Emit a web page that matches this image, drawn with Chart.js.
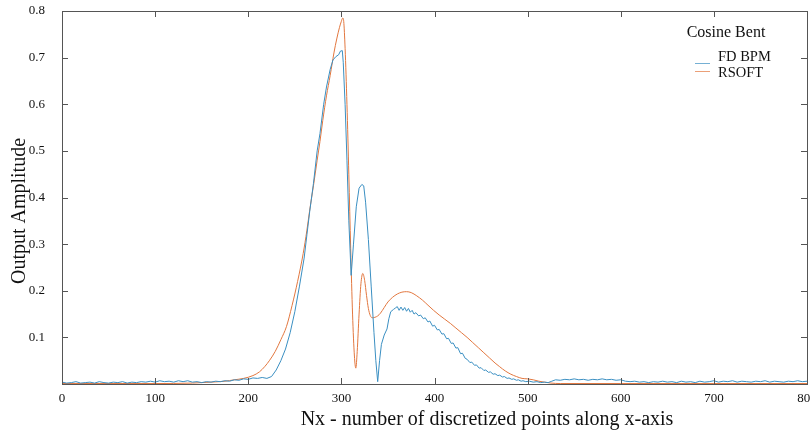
<!DOCTYPE html>
<html>
<head>
<meta charset="utf-8">
<script src="https://cdn.jsdelivr.net/npm/chart.js@4/dist/chart.umd.min.js"></script>
<style>
html,body{margin:0;padding:0;background:#fff;}
#wrap{width:810px;height:432px;position:relative;}
</style>
</head>
<body>
<div id="wrap"><canvas id="c" width="810" height="432"></canvas></div>
<script>
// ---- data ----
const chartTitle = "Cosine Bent";
const seriesNames = ["FD BPM", "RSOFT"];
const xAxisTitle = "Nx - number of discretized points along x-axis";
const yAxisTitle = "Output Amplitude";
const xTicks = [0, 100, 200, 300, 400, 500, 600, 700, 800];
const yTicks = [0.1, 0.2, 0.3, 0.4, 0.5, 0.6, 0.7, 0.8];

const fdX = [0,5,10,15,20,25,30,35,40,45,50,55,60,65,70,75,80,85,90,95,100,105,110,115,120,125,130,135,140,145,150,155,160,165,170,175,180,185,190,195,200,205,210,215,220,225,230,235,240,245,250,255,260,263,266,270,274,277,281,284,288,291,294,297,299,301,302,304,306,308,310.5,313,316,319,322,324,326,329,332,335,337,339,341,343,346,349,351,353,356,358,360,362,364,366,368,370,372,374,376,378,380,383,385,388,390,393,395,398,400,403,405,408,410,413,415,418,420,423,425,428,430,433,435,438,440,443,445,448,450,453,455,458,460,463,465,468,470,473,475,478,480,483,485,488,490,493,495,498,502,506,510,514,518,522,526,530,535,540,545,550,555,560,565,570,575,580,585,590,595,600,605,610,615,620,625,630,635,640,645,650,655,660,665,670,675,680,685,690,695,700,705,710,715,720,725,730,735,740,745,750,755,760,765,770,775,780,785,790,795,800];
const fdY = [0.004,0.002,0.003,0.005,0.002,0.003,0.004,0.002,0.005,0.003,0.002,0.004,0.003,0.005,0.002,0.004,0.003,0.005,0.004,0.006,0.004,0.007,0.005,0.006,0.004,0.007,0.005,0.007,0.004,0.005,0.003,0.005,0.004,0.006,0.005,0.007,0.006,0.009,0.008,0.011,0.010,0.013,0.012,0.014,0.012,0.016,0.030,0.050,0.075,0.110,0.155,0.210,0.270,0.320,0.370,0.430,0.500,0.537,0.600,0.637,0.675,0.695,0.702,0.706,0.714,0.715,0.690,0.600,0.480,0.350,0.233,0.300,0.380,0.420,0.428,0.425,0.390,0.310,0.210,0.110,0.050,0.005,0.050,0.085,0.105,0.118,0.140,0.155,0.160,0.163,0.166,0.158,0.165,0.158,0.164,0.156,0.162,0.154,0.158,0.150,0.153,0.146,0.148,0.140,0.142,0.133,0.135,0.124,0.126,0.116,0.117,0.107,0.108,0.097,0.098,0.087,0.088,0.077,0.078,0.065,0.066,0.055,0.053,0.046,0.047,0.040,0.041,0.034,0.035,0.029,0.030,0.025,0.026,0.021,0.022,0.018,0.019,0.015,0.016,0.012,0.013,0.010,0.011,0.008,0.009,0.006,0.007,0.005,0.006,0.004,0.005,0.003,0.004,0.003,0.006,0.009,0.008,0.010,0.009,0.011,0.009,0.010,0.008,0.010,0.009,0.011,0.009,0.010,0.008,0.009,0.006,0.005,0.006,0.004,0.005,0.003,0.005,0.004,0.006,0.004,0.005,0.003,0.006,0.004,0.005,0.003,0.006,0.004,0.005,0.007,0.004,0.006,0.005,0.007,0.004,0.006,0.005,0.004,0.006,0.005,0.007,0.004,0.006,0.005,0.004,0.006,0.005,0.007,0.005,0.006];

const rsX = [0,100,140,160,175,185,195,205,212,218,223,229,235,241,247,253,259,263,266,270,274,277,280,284,288,292,295,298,300,301.5,302.5,304,306,308,310,312,314,315.5,317,319,321,323,325,327,329,331,333,336,339,342,346,350,355,360,365,370,375,381,387,393,399,405,411,417,423,429,435,441,447,453,459,465,470,476,482,488,494,500,506,512,518,525,535,600,700,800];
const rsY = [0.001,0.001,0.002,0.004,0.006,0.009,0.012,0.018,0.026,0.038,0.051,0.070,0.095,0.123,0.168,0.220,0.280,0.330,0.373,0.425,0.480,0.520,0.565,0.618,0.662,0.710,0.740,0.765,0.778,0.785,0.778,0.720,0.600,0.450,0.290,0.150,0.060,0.034,0.070,0.150,0.215,0.237,0.222,0.190,0.162,0.147,0.142,0.143,0.146,0.152,0.164,0.176,0.186,0.193,0.197,0.198,0.196,0.189,0.180,0.169,0.158,0.148,0.139,0.130,0.120,0.110,0.100,0.089,0.078,0.067,0.056,0.045,0.037,0.028,0.021,0.016,0.012,0.011,0.009,0.006,0.004,0.002,0.001,0.001,0.001,0.001];

const colors = ["#3a8fc2", "#e2773f"];
const serif = '"Liberation Serif", "Times New Roman", serif';

const toPts = (xs, ys) => xs.map((x, i) => ({x: x, y: ys[i]}));

const decor = {
  id: 'decor',
  afterDraw(chart) {
    const {ctx, chartArea: a, scales: {x, y}} = chart;
    ctx.save();
    // frame
    ctx.strokeStyle = '#555';
    ctx.lineWidth = 1;
    ctx.strokeRect(Math.round(a.left) + 0.5, Math.round(a.top) + 0.5, Math.round(a.right - a.left), Math.round(a.bottom - a.top));
    // inward ticks on all four sides
    const L = 6;
    ctx.beginPath();
    xTicks.forEach(v => {
      const px = Math.round(x.getPixelForValue(v)) + 0.5;
      ctx.moveTo(px, a.bottom); ctx.lineTo(px, a.bottom - L);
      ctx.moveTo(px, a.top); ctx.lineTo(px, a.top + L);
    });
    yTicks.forEach(v => {
      const py = Math.round(y.getPixelForValue(v)) + 0.5;
      ctx.moveTo(a.left, py); ctx.lineTo(a.left + L, py);
      ctx.moveTo(a.right, py); ctx.lineTo(a.right - L, py);
    });
    ctx.stroke();
    // axis titles
    ctx.fillStyle = '#111';
    ctx.font = '20px ' + serif;
    ctx.textAlign = 'center';
    ctx.textBaseline = 'middle';
    ctx.fillText(xAxisTitle, 487, 420);
    ctx.save();
    ctx.translate(20, 211);
    ctx.rotate(-Math.PI / 2);
    ctx.fillText(yAxisTitle, 0, 0);
    ctx.restore();
    // legend
    ctx.font = '16px ' + serif;
    ctx.textAlign = 'center';
    ctx.fillText(chartTitle, 726, 33);
    ctx.font = '14.5px ' + serif;
    ctx.textAlign = 'left';
    const rows = [57, 73];
    const lineY = [63, 71];
    seriesNames.forEach((n, i) => {
      ctx.fillStyle = '#111';
      ctx.fillText(n, 718, rows[i]);
      ctx.strokeStyle = colors[i];
      ctx.globalAlpha = 0.7;
      ctx.beginPath();
      ctx.moveTo(695, lineY[i] + 0.5); ctx.lineTo(710, lineY[i] + 0.5);
      ctx.stroke();
      ctx.globalAlpha = 1;
    });
    ctx.restore();
  }
};

new Chart(document.getElementById('c'), {
  type: 'line',
  data: {
    datasets: [
      {label: seriesNames[0], data: toPts(fdX, fdY), borderColor: colors[0], borderWidth: 1, pointRadius: 0, tension: 0, fill: false},
      {label: seriesNames[1], data: toPts(rsX, rsY), borderColor: colors[1], borderWidth: 1, pointRadius: 0, cubicInterpolationMode: 'monotone', fill: false}
    ]
  },
  options: {
    responsive: false,
    devicePixelRatio: 1,
    animation: false,
    layout: {padding: {left: 0, right: 3, top: 11, bottom: 0}},
    plugins: {legend: {display: false}, tooltip: {enabled: false}},
    scales: {
      x: {
        type: 'linear', min: 0, max: 800,
        afterFit: s => { s.height = 48; s.paddingLeft = 0; s.paddingRight = 0; },
        afterBuildTicks: s => { s.ticks = xTicks.map(v => ({value: v})); },
        grid: {display: false},
        border: {display: false},
        ticks: {color: '#111', font: {family: serif, size: 13}, padding: -1, maxRotation: 0}
      },
      y: {
        type: 'linear', min: 0, max: 0.8,
        afterFit: s => { s.width = 62; s.paddingTop = 0; s.paddingBottom = 0; },
        afterBuildTicks: s => { s.ticks = yTicks.map(v => ({value: v})); },
        grid: {display: false},
        border: {display: false},
        ticks: {color: '#111', font: {family: serif, size: 13}, padding: 9, callback: v => v.toFixed(1)}
      }
    }
  },
  plugins: [decor]
});
</script>
</body>
</html>
